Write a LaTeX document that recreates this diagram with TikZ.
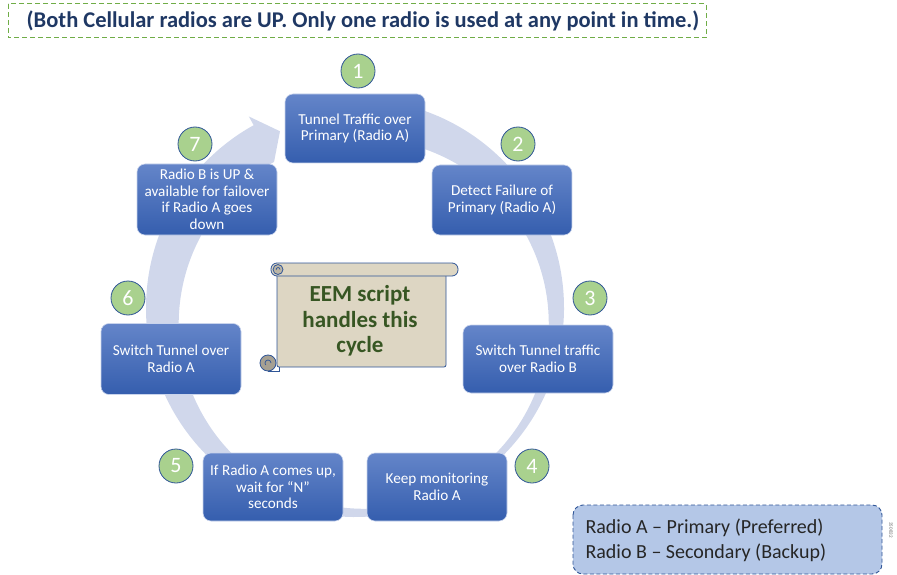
\documentclass[tikz,border=0pt]{standalone}
\usepackage{fontspec}
\setmainfont{Carlito}
\definecolor{ringc}{HTML}{D0D7EB}
\definecolor{boxtop}{HTML}{6485C9}
\definecolor{boxbot}{HTML}{355EAE}
\definecolor{numfill}{HTML}{A9D18E}
\definecolor{numline}{HTML}{2F5597}
\definecolor{titlec}{HTML}{1F3864}
\definecolor{titlebd}{HTML}{70AD47}
\definecolor{legfill}{HTML}{B4C7E7}
\definecolor{scrollfill}{HTML}{DDD6C3}
\definecolor{eemc}{HTML}{375623}
\definecolor{legtext}{HTML}{262626}
\tikzset{
  stepbox/.style={rounded corners=8pt, top color=boxtop, bottom color=boxbot,
    draw=white!65!boxtop, line width=0.6pt, text=white, align=center,
    font=\fontsize{15.2}{16.5}\selectfont, inner sep=0pt,
    minimum width=140pt, minimum height=69pt},
  numc/.style={circle, fill=numfill, draw=numline, line width=0.8pt,
    minimum size=34pt, inner sep=0pt, text=white,
    font=\fontsize{22}{22}\selectfont},
}
\begin{document}
\begin{tikzpicture}[x=1pt,y=1pt]
\useasboundingbox (0,0) rectangle (897,-575);

% title
\draw[titlebd, line width=1pt, dash pattern=on 5pt off 3pt] (8,-4) rectangle (706,-38);
\node[text=titlec, font=\fontsize{22.5}{24}\selectfont\bfseries] (title) at (363,-21) {(Both Cellular radios are UP. Only one radio is used at any point in time.)};

% ring arrow
\begin{scope}[shift={(355,-308)}]
\fill[ringc] (85:209) arc[start angle=85, end angle=-241, radius=209pt]
  -- (-241:219) -- (-247:192) -- (-241:167)
  arc[start angle=-241, end angle=85, radius=185pt] -- cycle;
\end{scope}

% boxes
\node[stepbox] (b1) at (355,-128.5) {Tunnel Traffic over\\Primary (Radio A)};
\node[stepbox, minimum height=70pt] (b2) at (502,-200) {Detect Failure of\\Primary (Radio A)};
\node[stepbox, minimum width=150pt, minimum height=68pt] (b3) at (538,-359) {Switch Tunnel traffic\\over Radio B};
\node[stepbox, minimum height=68pt] (b4) at (437,-487) {Keep monitoring\\Radio A};
\node[stepbox, minimum height=68pt] (b5) at (273,-487) {If Radio A comes up,\\wait for “N”\\seconds};
\node[stepbox, minimum height=71pt] (b6) at (171,-359) {Switch Tunnel over\\Radio A};
\node[stepbox, minimum height=71pt] (b7) at (207,-199.5) {Radio B is UP \&\\available for failover\\if Radio A goes\\down};

% numbers
\node[numc] (n1) at (358,-71) {1};
\node[numc] (n2) at (518,-144) {2};
\node[numc] (n3) at (590,-298) {3};
\node[numc] (n4) at (532,-466) {4};
\node[numc] (n5) at (176,-466) {5};
\node[numc] (n6) at (128,-298) {6};
\node[numc] (n7) at (195,-144) {7};

% scroll
\filldraw[fill=scrollfill, draw=numline, line width=0.8pt, rounded corners=2pt] (277,-268) rectangle (446,-367);
\filldraw[fill=scrollfill, draw=numline, line width=0.8pt, rounded corners=6pt] (271,-263) rectangle (458,-276);
\filldraw[fill=scrollfill!85!black, draw=numline, line width=0.8pt] (278,-269.5) circle[radius=5pt];
\draw[numline, line width=0.7pt] (280,-269.5) arc[start angle=0, end angle=200, radius=2pt];
\filldraw[fill=scrollfill!75!black, draw=numline, line width=0.8pt] (268,-363) circle[radius=8pt];
\draw[numline, line width=0.7pt] (271,-363) arc[start angle=0, end angle=220, radius=3pt];
\draw[numline, line width=0.8pt] (268,-371) -- (279,-371) -- (279,-367);
\node[text=eemc, align=center, font=\fontsize{23}{25.5}\selectfont\bfseries] (eem) at (360,-321) {EEM script\\handles this\\cycle};

% legend
\draw[fill=legfill, draw=numline, line width=0.9pt, dash pattern=on 4pt off 2.5pt, rounded corners=10pt] (573,-505) rectangle (882,-574);
\node[text=legtext, align=left, anchor=west, font=\fontsize{20}{25}\selectfont] (leg) at (582,-540) {Radio A – Primary (Preferred)\\Radio B – Secondary (Backup)};

\node[rotate=-90, text=black!60, font=\fontsize{5}{5}\selectfont] (fig) at (891,-530) {350832};
\end{tikzpicture}
\end{document}
